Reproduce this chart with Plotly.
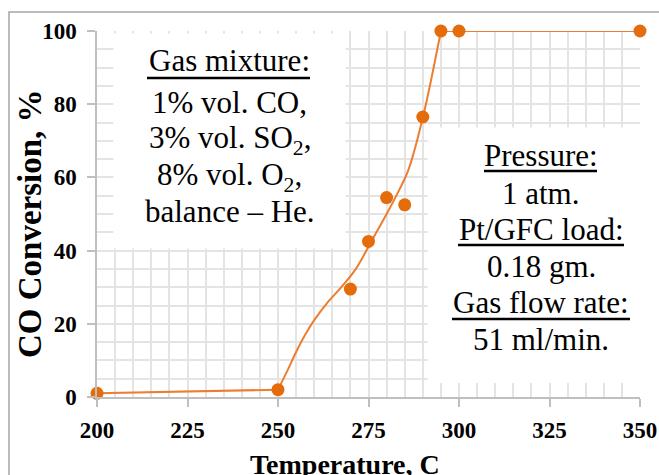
import plotly.graph_objects as go

# ---- data ----
temps = [200, 250, 270, 275, 280, 285, 290, 295, 300, 350]
conversion = [1, 2, 29.5, 42.5, 54.5, 52.5, 76.5, 100, 100, 100]

# fitted (smoothed) trend line
fit_low_t = [200, 250]
fit_low_v = [1, 2]
fit_t = [250, 252.5, 255, 257.5, 260, 263.5, 267.5, 271.5, 276.5, 280, 283.5, 286, 290, 295]
fit_v = [2, 7.0, 12.3, 17.0, 21, 25.6, 30, 35.0, 43.8, 50, 56.6, 62, 76.3, 100]
fit_high_t = [295, 350]
fit_high_v = [100, 100]

x_ticks = [200, 225, 250, 275, 300, 325, 350]
y_ticks = [0, 20, 40, 60, 80, 100]

left_lines = ["Gas mixture:", "1% vol. CO,", "3% vol. SO<sub>2</sub>,",
              "8% vol. O<sub>2</sub>,", "balance \u2013 He."]
right_lines = ["Pressure:", "1 atm.", "Pt/GFC load:", "0.18 gm.",
               "Gas flow rate:", "51 ml/min."]

LINE_C = "#ED7D31"
MARK_C = "#E46C0A"
GRID_C = "#e4e4e4"
AXIS_C = "#bfbfbf"
SERIF = "Liberation Serif"

W, H = 659, 475
# plot area in pixels: x 97..640, y 31..397
SX0, SX1, SY0, SY1 = 97, 640, 31, 397
L, T = SX0, SY0
R, B = W - SX1, H - SY1
PW, PH = SX1 - SX0, SY1 - SY0


def px(xs):
    return (xs - SX0) / PW


def py(ys):
    return (SY1 - ys) / PH


fig = go.Figure()
for xs, ys, shape in [(fit_low_t, fit_low_v, "linear"), (fit_t, fit_v, "spline"),
                      (fit_high_t, fit_high_v, "linear")]:
    fig.add_trace(go.Scatter(x=xs, y=ys, mode="lines", line=dict(color=LINE_C, width=2, shape=shape),
                             hoverinfo="skip", showlegend=False, cliponaxis=False))
fig.add_trace(go.Scatter(x=temps, y=conversion, mode="markers",
                         marker=dict(color=MARK_C, size=13, line=dict(width=0)),
                         showlegend=False, cliponaxis=False))

# white boxes hiding the grid behind the text
fig.add_shape(type="rect", xref="x", yref="y", x0=204.5, x1=268.7, y0=40.6, y1=99.3,
              fillcolor="white", line=dict(width=0), layer="between")
fig.add_shape(type="rect", xref="x", yref="y", x0=291.3, x1=352, y0=3.8, y1=73.6,
              fillcolor="white", line=dict(width=0), layer="between")
# outer frame
fig.add_shape(type="rect", xref="paper", yref="paper", x0=px(9), x1=1.5, y0=-0.5, y1=py(12),
              fillcolor="rgba(0,0,0,0)", line=dict(color="#a6a6a6", width=1.5), layer="below")

text_font = dict(family=SERIF, size=31, color="black")
left_y = [61, 102.5, 140, 176.5, 211.5]
for t, yp in zip(left_lines, left_y):
    fig.add_annotation(text=t, xref="paper", yref="paper", x=px(229.5), y=py(yp),
                       xanchor="center", yanchor="middle", showarrow=False, font=text_font)
right_y = [155.5, 193, 229.5, 266.5, 302.5, 339.5]
for t, yp in zip(right_lines, right_y):
    fig.add_annotation(text=t, xref="paper", yref="paper", x=px(541), y=py(yp),
                       xanchor="center", yanchor="middle", showarrow=False, font=text_font)

# underlines (thick, as in the reference)
for x0, x1, yp in [(147, 310, 78), (484, 597, 171), (458, 624, 245), (452, 630, 319)]:
    fig.add_shape(type="line", xref="paper", yref="paper", x0=px(x0), x1=px(x1), y0=py(yp), y1=py(yp),
                  line=dict(color="black", width=2.5))

fig.add_annotation(text="<b>Temperature, C</b>", xref="paper", yref="paper", x=px(345), y=py(464),
                   xanchor="center", yanchor="middle", showarrow=False,
                   font=dict(family=SERIF, size=28, color="black"))
fig.add_annotation(text="<b>CO Conversion, %</b>", xref="paper", yref="paper", x=px(30), y=py(224),
                   xanchor="center", yanchor="middle", showarrow=False, textangle=-90,
                   font=dict(family=SERIF, size=33, color="black"))

tickfont = dict(family=SERIF, size=23, color="black", weight="bold")
fig.update_xaxes(range=[200, 350], tickmode="array", tickvals=x_ticks, ticktext=[str(v) for v in x_ticks],
                 ticks="outside", ticklen=8, tickcolor=AXIS_C, tickwidth=1.5,
                 showline=True, linecolor=AXIS_C, linewidth=1.5, zeroline=False,
                 showgrid=True, gridcolor=GRID_C, gridwidth=1.5,
                 minor=dict(tick0=200, dtick=5, showgrid=True, gridcolor=GRID_C, gridwidth=1.5),
                 tickfont=tickfont, ticklabelstandoff=4, automargin=False)
fig.update_yaxes(range=[0, 100], tickmode="array", tickvals=y_ticks, ticktext=[str(v) for v in y_ticks],
                 ticks="outside", ticklen=8, tickcolor=AXIS_C, tickwidth=1.5,
                 showline=True, linecolor=AXIS_C, linewidth=1.5, zeroline=False,
                 showgrid=True, gridcolor=GRID_C, gridwidth=1.5,
                 minor=dict(tick0=0, dtick=5, showgrid=True, gridcolor=GRID_C, gridwidth=1.5),
                 tickfont=tickfont, ticklabelstandoff=6, automargin=False)

fig.update_layout(width=W, height=H, margin=dict(l=L, r=R, t=T, b=B, autoexpand=False),
                  paper_bgcolor="white", plot_bgcolor="white", showlegend=False)

fig.write_html("out.html", config={"displayModeBar": False},
               post_script="document.body.style.margin='0';document.body.style.overflow='hidden';")
